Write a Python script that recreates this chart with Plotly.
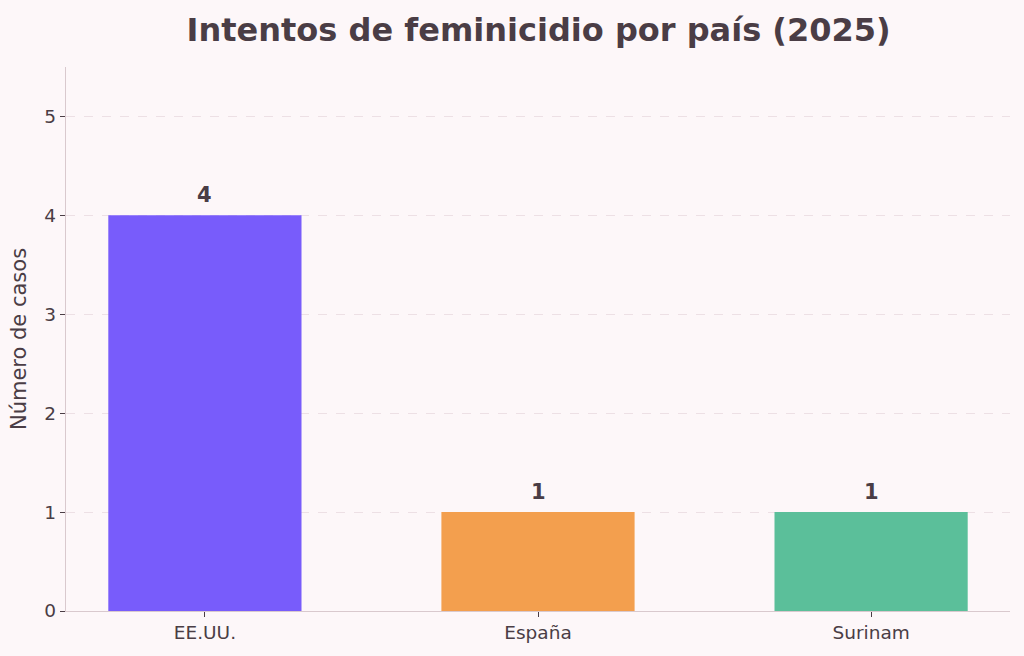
import plotly.graph_objects as go

paises = ["EE.UU.", "España", "Surinam"]
casos = [4, 1, 1]
colores = ["#785cfb", "#f39f4e", "#5bbf9a"]
y_ticks = [0, 1, 2, 3, 4, 5]

FONT = "DejaVu Sans"
TXT = "#4a3d45"
BG = "#fdf7f9"

fig = go.Figure()
fig.add_trace(go.Bar(
    x=list(range(len(paises))),
    y=casos,
    marker=dict(color=colores, line=dict(width=0)),
    width=0.58,
    hoverinfo="skip",
))

for i, v in enumerate(casos):
    fig.add_annotation(
        x=i, y=v, xref="x", yref="y",
        text=f"<b>{v}</b>", showarrow=False,
        yanchor="bottom", yshift=6,
        font=dict(family=FONT, size=21, color=TXT),
    )

fig.update_layout(
    width=1024, height=656,
    paper_bgcolor=BG,
    plot_bgcolor=BG,
    margin=dict(l=66, r=14, t=67, b=45),
    showlegend=False,
    title=dict(
        text="<b>Intentos de feminicidio por país (2025)</b>",
        x=0.526, xanchor="center", y=0.955, yanchor="middle",
        font=dict(family=FONT, size=32, color=TXT),
    ),
    font=dict(family=FONT, color=TXT),
    xaxis=dict(
        tickmode="array",
        tickvals=list(range(len(paises))),
        ticktext=paises,
        range=[-0.417, 2.417],
        showgrid=False,
        zeroline=False,
        showline=True, linecolor="#d9c9ce", linewidth=1.3,
        ticks="outside", ticklen=5, tickcolor=TXT, tickwidth=1,
        tickfont=dict(family=FONT, size=18.5, color=TXT),
    ),
    yaxis=dict(
        range=[0, 5.5],
        tickmode="array",
        tickvals=y_ticks,
        showgrid=True, gridcolor="#ede0e5", griddash="dash", gridwidth=1,
        zeroline=False,
        showline=True, linecolor="#d9c9ce", linewidth=1.3,
        ticks="outside", ticklen=5, tickcolor=TXT, tickwidth=1,
        tickfont=dict(family=FONT, size=18.5, color=TXT),
        title=dict(text="Número de casos", font=dict(family=FONT, size=21, color=TXT), standoff=12),
    ),
)

fig.write_html(
    "out.html",
    config={"displayModeBar": False},
    post_script=f"document.body.style.margin='0';document.body.style.background='{BG}';",
)
